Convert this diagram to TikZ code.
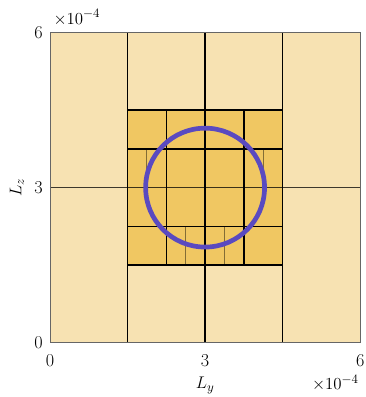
\documentclass[tikz,border=0pt]{standalone}
\usepackage{tikz}
\usetikzlibrary{positioning}
\definecolor{cellpale}{HTML}{F7E2B2}
\definecolor{celldeep}{HTML}{F0C762}
\definecolor{ringblue}{HTML}{5A4AC0}

\begin{document}
\begin{tikzpicture}[x=1.551cm, y=1.551cm,
    every node/.style={font=\fontsize{15.5}{18}\selectfont},
    cellline/.style={black, line width=1.2pt},
    midline/.style={black, opacity=0.75, line width=1.2pt},
    fineline/.style={black, opacity=0.45, line width=0.8pt}]
    \useasboundingbox (-0.967,-1.050) rectangle (6.112,6.629);

    % ---------------- cells ----------------
    \fill[cellpale] (0,0) rectangle (6,6);
    \fill[celldeep] (1.5,1.5) rectangle (4.5,4.5);

    % coarse lines
    \foreach \x in {1.5, 3, 4.5} \draw[cellline] (\x,0) -- (\x,6);
    \draw[midline] (0,3) -- (6,3);
    \foreach \y in {1.5, 4.5} \draw[cellline] (1.5,\y) -- (4.5,\y);

    % refined block
    \foreach \x in {2.25, 3.75} \draw[cellline] (\x,1.5) -- (\x,4.5);
    \foreach \y in {2.25, 3.75} \draw[cellline] (1.5,\y) -- (4.5,\y);

    % finest cells
    \foreach \x in {1.875, 4.125} \draw[fineline] (\x,3) -- (\x,3.75);
    \foreach \x in {2.625, 3.375} \draw[fineline] (\x,1.5) -- (\x,2.25);

    % interface
    \draw[ringblue, line width=4pt] (3,3) circle (1.15);

    % frame
    \draw[black!60, line width=0.8pt] (0,0) rectangle (6,6);

    % ---------------- axes ----------------
    \node (x0) at (0,-0.34) {0};
    \node (x3) at (3,-0.34) {3};
    \node (x6) at (6,-0.34) {6};
    \node (y0) at (-0.22,0) {0};
    \node (y3) at (-0.22,3) {3};
    \node (y6) at (-0.22,6) {6};
    \node (ly) [below=0.05 of x3] {$L_y$};
    \node (lz) [rotate=90] at (-0.64,3) {$L_z$};
    \node (ey) at (0.52,6.29) {$\times10^{-4}$};
    \node (ex) at (5.52,-0.78) {$\times10^{-4}$};
\end{tikzpicture}
\end{document}
